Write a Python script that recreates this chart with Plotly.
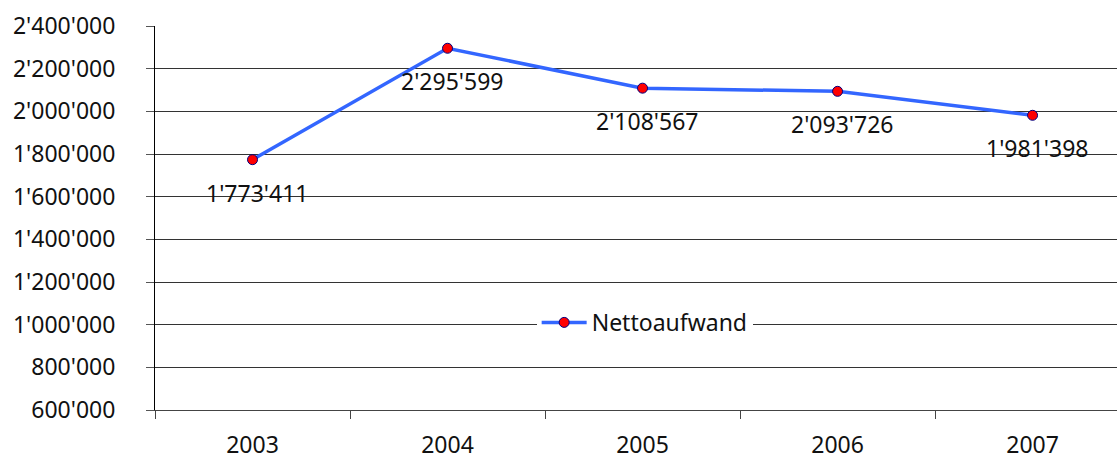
import plotly.graph_objects as go

years = ["2003", "2004", "2005", "2006", "2007"]
netto = [1773411, 2295599, 2108567, 2093726, 1981398]
y_ticks = [600000, 800000, 1000000, 1200000, 1400000, 1600000, 1800000, 2000000, 2200000, 2400000]

FONT = "Noto Sans, DejaVu Sans, sans-serif"
FS = 23

fig = go.Figure()
fig.add_trace(go.Scatter(
    x=years,
    y=netto,
    mode="lines+markers",
    name="Nettoaufwand",
    line=dict(color="#3366FF", width=3.5),
    marker=dict(color="#FF0000", size=10, line=dict(color="#000080", width=1)),
))

# data labels below each point (category axis -> use index position)
for i, v in enumerate(netto):
    fig.add_annotation(
        x=i, y=v, text=f"{v:,}".replace(",", "'"),
        showarrow=False, yshift=-33, xshift=4,
        font=dict(family=FONT, size=FS, color="#111111"),
    )

fig.update_layout(
    width=1117,
    height=459,
    margin=dict(l=155, r=0, t=26, b=49),
    paper_bgcolor="white",
    plot_bgcolor="white",
    separators=".'",
    font=dict(family=FONT, size=FS, color="#111111"),
    showlegend=True,
    legend=dict(
        x=0.509, y=0.228,
        xanchor="center", yanchor="middle",
        bgcolor="white", font=dict(family=FONT, size=FS, color="#111111"),
        itemwidth=45,
    ),
    xaxis=dict(
        type="category",
        range=[-0.5, 4.433],
        showgrid=False,
        showline=True, linecolor="#444444", linewidth=1,
        ticks="outside", ticklen=8, tickcolor="#444444",
        tickson="boundaries",
        ticklabelstandoff=14,
    ),
    yaxis=dict(
        range=[600000, 2400000],
        tickvals=y_ticks,
        tickformat=",d",
        showgrid=True, gridcolor="#333333", gridwidth=1,
        showline=True, linecolor="#000000", linewidth=1,
        ticks="outside", ticklen=8, tickcolor="#555555",
        ticklabelstandoff=26,
        zeroline=False,
    ),
)

fig.write_html("out.html", config={"displayModeBar": False},
               post_script="document.body.style.margin='0';")
